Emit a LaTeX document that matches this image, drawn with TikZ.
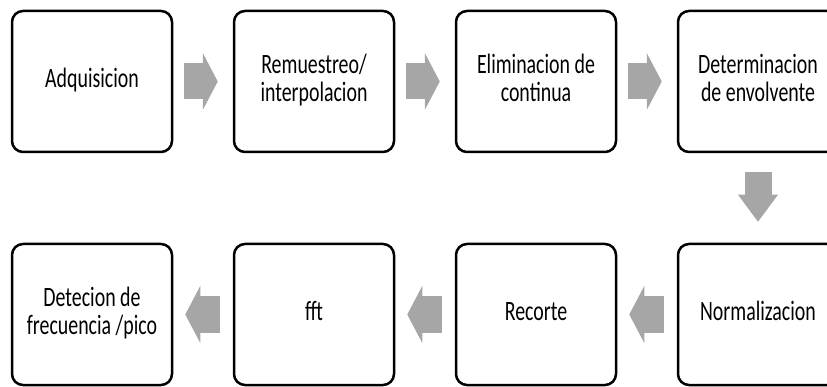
\documentclass[tikz,border=0pt]{standalone}
\usepackage{fontspec}
\setmainfont{Carlito}
\usepackage{graphicx}
\usepackage{tikz}
\usetikzlibrary{positioning, arrows.meta}

% narrow, tall lettering as in the reference
\newcommand{\squash}[1]{\scalebox{0.71}[1]{\begin{tabular}{@{}c@{}}#1\end{tabular}}}

\begin{document}
\begin{tikzpicture}[x=1pt, y=1pt,
  stage/.style={draw, rectangle, rounded corners=11pt, line width=2.5pt,
    minimum width=160pt, minimum height=141pt, inner sep=0pt,
    font=\fontsize{28}{28}\selectfont},
  fat/.style={draw=gray!70, line width=36pt,
    -{Triangle[length=15pt, width=57pt, line width=0pt, fill=gray!70]}},
  fatdown/.style={draw=gray!70, line width=27pt,
    -{Triangle[length=27pt, width=40pt, line width=0pt, fill=gray!70]}}]
  \useasboundingbox (0,0) rectangle (827,-387);

  % Processing chain (top row)
  \node (adq) [stage] at (92,-81.5) {\squash{Adquisicion}};
  \node (remu) [stage] at (314,-81.5) {\squash{Remuestreo/\\interpolacion}};
  \node (elim) [stage] at (536,-81.5) {\squash{Eliminacion de\\continua}};
  \node (env) [stage] at (758,-81.5) {\squash{Determinacion\\de envolvente}};
  \draw[fat, shorten <=11pt, shorten >=15pt] (adq) -- (remu);
  \draw[fat, shorten <=11pt, shorten >=15pt] (remu) -- (elim);
  \draw[fat, shorten <=11pt, shorten >=15pt] (elim) -- (env);

  % Turn down (right side)
  \node (norm) [stage] at (758,-314.5) {\squash{Normalizacion}};
  \draw[fatdown, shorten <=19pt, shorten >=21pt] (env) -- (norm);

  % Processing chain (bottom row, right to left)
  \node (rec) [stage] at (536,-314.5) {\squash{Recorte}};
  \node (fft) [stage] at (314,-314.5) {\squash{fft}};
  \node (pico) [stage] at (92,-314.5) {\squash{Detecion de\\frecuencia /pico}};
  \draw[fat, shorten <=13pt, shorten >=12pt] (norm) -- (rec);
  \draw[fat, shorten <=13pt, shorten >=12pt] (rec) -- (fft);
  \draw[fat, shorten <=13pt, shorten >=12pt] (fft) -- (pico);
\end{tikzpicture}
\end{document}
